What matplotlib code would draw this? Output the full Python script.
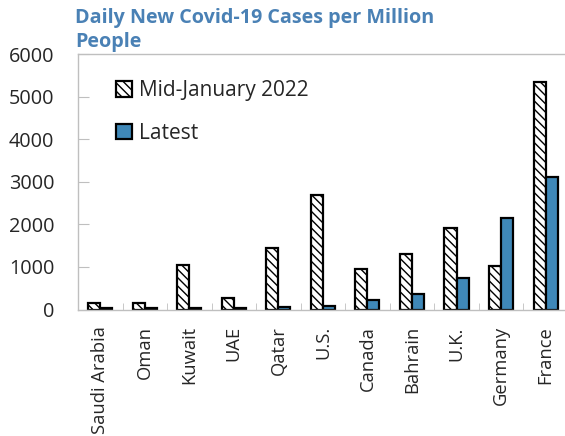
import matplotlib
matplotlib.use("Agg")
import matplotlib.pyplot as plt
import numpy as np

plt.rcParams['font.family'] = ['Open Sans', 'DejaVu Sans']
plt.rcParams['hatch.linewidth'] = 1.0

countries = ["Saudi Arabia", "Oman", "Kuwait", "UAE", "Qatar", "U.S.",
             "Canada", "Bahrain", "U.K.", "Germany", "France"]
mid_january = [155, 150, 1040, 265, 1440, 2700, 945, 1310, 1915, 1020, 5360]
latest = [30, 30, 30, 30, 50, 90, 235, 360, 735, 2155, 3105]
yticks = [0, 1000, 2000, 3000, 4000, 5000, 6000]

title_color = "#4a81b5"
latest_color = "#3f88b8"
spine_color = "#bfbfbf"
text_color = "#262626"

fig = plt.figure(figsize=(5.65, 4.36), dpi=100)
ax = fig.add_axes([78 / 565, 1 - 309.5 / 436, (565 - 78) / 565 + 0.005, (309.5 - 54.3) / 436])

x = np.arange(len(countries))
w = 0.27
ax.bar(x - w / 2, mid_january, w, facecolor="white", edgecolor="black",
       hatch="\\\\\\\\", linewidth=1.6, label="Mid-January 2022")
ax.bar(x + w / 2, latest, w, facecolor=latest_color, edgecolor="black",
       linewidth=1.6, label="Latest")

ax.set_xlim(-0.5, len(countries) - 0.5)
ax.set_ylim(0, 6000)
ax.set_yticks(yticks)
ax.set_yticklabels([str(v) for v in yticks], fontsize=14.3, color=text_color)

# category separators along the baseline
ax.set_xticks(x[:-1] + 0.5, minor=True)
ax.set_xticks(x)
ax.set_xticklabels(countries, rotation=90, fontsize=13.2, color=text_color)
ax.tick_params(axis="x", which="major", length=0, pad=12)
ax.tick_params(axis="x", which="minor", direction="in", length=5, color=spine_color)
ax.tick_params(axis="y", direction="in", length=8, color=spine_color, pad=17)

for side in ["left", "bottom", "top"]:
    ax.spines[side].set_color(spine_color)
    ax.spines[side].set_linewidth(1.0)
ax.spines["right"].set_visible(False)

leg = ax.legend(loc="upper left", bbox_to_anchor=(0.04, 0.972), frameon=False,
                fontsize=15, handlelength=0.75, handleheight=0.75,
                handletextpad=0.35, labelspacing=1.05)
for t in leg.get_texts():
    t.set_color(text_color)

fig.text(75 / 565, 1 - 8 / 436, "Daily New Covid-19 Cases per Million\nPeople",
         ha="left", va="top", fontsize=14.2, fontweight="bold", color=title_color,
         linespacing=1.25)

fig.savefig("out.png", dpi=100)
